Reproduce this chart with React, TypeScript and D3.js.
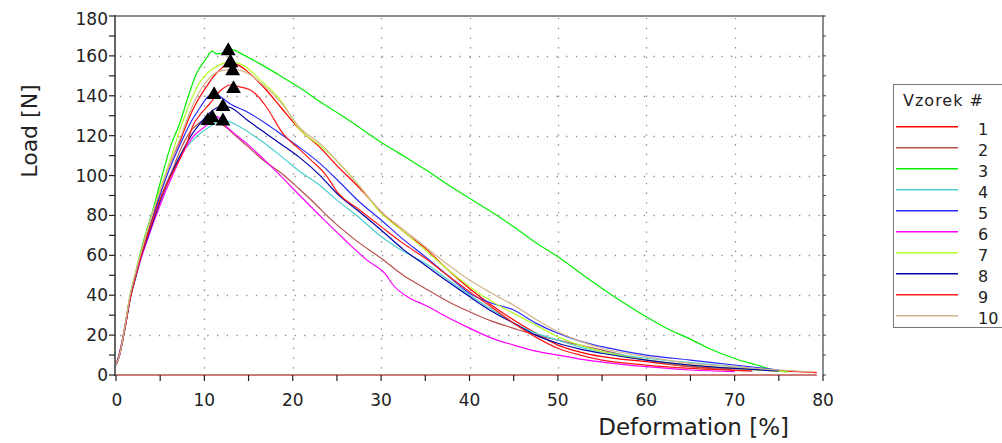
import React, { useEffect, useRef } from "react";
import * as d3 from "d3";

type Pt = [number, number];

const seriesNames = ["1", "2", "3", "4", "5", "6", "7", "8", "9", "10"];
const seriesColors = ["#ff0000", "#b8504c", "#00f000", "#4fd0d0", "#2a2aff", "#ff00ff", "#b4ff2a", "#0000a8", "#ff1a1a", "#d2b48c"];

const s1: Pt[] = [[0,5],[0.4,11],[1,24],[1.6,39],[2.2,50],[2.8,60],[3.5,70],[4.2,80],[4.9,90],[5.6,100],[6.5,110],[7.3,118],[8,126],[8.8,134],[9.5,139.5],[10.3,145],[11,149.5],[12,154],[12.9,156.5],[14,155],[14.8,152.5],[16,147.5],[17,142.9],[18.6,134.5],[20.8,123],[23.1,114],[25,105],[27.5,94],[30,81.9],[32.5,72],[35,63.5],[37.5,53],[40,43.4],[42.5,35],[45,27.6],[47.5,21],[50,15],[52.5,11.5],[55,9.2],[60,6.7],[65,4.2],[70,3.3],[75,2.2],[79.3,1.2]];
const s2: Pt[] = [[0,5],[0.4,10],[1,24],[1.6,39],[2.2,49],[2.8,59],[3.5,69],[4.2,78],[4.9,87],[5.6,95],[6.4,103],[7.2,112],[8.4,122],[9.3,126],[10.4,128],[11.2,127.5],[12.1,125.3],[13.5,120],[14.8,115],[17,106.5],[18.6,101.5],[20.8,93],[22.5,86],[24.2,78.5],[27,68],[30,58.5],[32.5,50],[35,43.4],[37.5,37],[40,31.7],[42.5,27],[45,23.4],[47.5,20],[50,17.5],[52.5,15],[55,12.5],[60,7.5],[65,4.2],[72,2]];
const s3: Pt[] = [[0,5],[0.4,10],[1,24],[1.6,40],[2.2,51],[2.8,62],[3.5,73],[4.2,83],[4.8,93],[5.4,103],[6.2,115],[7.2,126],[8.2,140],[9.1,151],[10.1,158],[10.9,162.4],[11.4,161],[12.1,161.5],[12.7,163],[13.3,163],[14,161.5],[16.3,156],[18.6,150],[20.8,144],[23.1,137],[26.1,128.5],[29.9,117],[32.1,111],[35,103],[38.5,92.7],[40,88.6],[43.8,78],[45,74.3],[47.6,66],[50,59.3],[53.2,49],[55,43.4],[57,37.5],[60,29.2],[62.3,23.4],[65,18],[67,13.5],[70,8.3],[72.5,5],[74,3],[76,1.5]];
const s4: Pt[] = [[0,5],[0.4,10],[1,23],[1.6,38],[2.2,48],[2.8,58],[3.5,68],[4.2,77],[4.9,86],[5.6,94],[6.4,102],[7.2,109.4],[8.7,117.8],[10.3,123.6],[12.1,127.8],[14,124.5],[16.3,117.8],[18.6,110],[20.8,102],[23.1,95],[25,87.7],[27.5,79],[30,69.4],[32.5,62],[35,56],[37.5,48],[40,40.1],[42.5,33],[45,26],[47.5,21],[50,17.5],[52.5,14],[55,11.7],[60,8.4],[65,6.2],[70,4.2],[75,2]];
const s5: Pt[] = [[0,5],[0.4,11],[1,24],[1.6,39],[2.2,49],[2.8,59],[3.5,69],[4.2,79],[4.9,89],[5.6,98],[6.5,108],[7.5,118],[8.5,127],[9.5,134],[10.3,139],[11.1,141],[12,139],[12.9,136],[14.8,132],[17,126],[18.6,121],[20.8,114],[23.1,106],[25,98],[27.5,87],[30,77.7],[32.5,68],[35,59.3],[37.5,50],[40,41],[42.5,36],[45,32.6],[47.5,26],[50,20.9],[52.5,17],[55,14.2],[60,10],[65,7.5],[70,5],[75,2.5]];
const s6: Pt[] = [[0,5],[0.4,10],[1,24],[1.6,39],[2.2,49],[2.8,58],[3.5,67],[4.2,76],[4.9,84],[5.6,92],[6.4,100],[7.2,108],[8.7,119.4],[10.3,125.3],[11.4,129.5],[12.5,124.5],[14.8,116],[17,107],[18.6,100],[20.8,90],[23.5,78],[25.9,67.7],[28.4,57.6],[30.6,50],[31.2,46],[33.3,38.4],[35,35],[37.5,29],[40,23.5],[42.5,18.5],[45,15],[47.5,12],[50,10],[52.5,8],[55,6.5],[60,4.2],[65,2.5],[70,1.7]];
const s7: Pt[] = [[0,5],[0.4,10],[1,24],[1.6,40],[2.2,51],[2.8,61],[3.5,72],[4.2,82],[4.9,92],[5.6,101],[6.3,110],[7,120],[7.8,130],[8.6,139],[9.5,147],[10.5,152],[11.5,155],[13,157],[14.5,155],[16.3,148],[18.6,137.8],[20.8,123],[23.1,115],[25.3,106],[27.5,95],[30,81],[32.5,72],[35,62.7],[37.5,53],[40,44.3],[42.5,37],[45,30.9],[47.5,25],[50,19.2],[52.5,15],[55,11.7],[60,7.5],[65,5],[70,3.3],[76,1.5]];
const s8: Pt[] = [[0,5],[0.4,10],[1,23],[1.6,38],[2.2,49],[2.8,59],[3.5,68],[4.2,77],[4.9,86],[5.6,94],[6.5,103],[7.5,112],[8.5,120],[9.5,126],[10.5,131],[12.1,135],[13,134],[14.8,128],[17,121],[18.6,116],[20.8,109],[23.1,100],[25,91],[27.5,82],[30,72.7],[32.5,63],[35,55],[37.5,47],[40,39.3],[42.5,32],[45,26],[47.5,20],[50,15.9],[52.5,13],[55,10.9],[60,7.5],[65,5],[70,3.3],[75,2]];
const s9: Pt[] = [[0,5],[0.4,10],[1,23],[1.6,38],[2.2,49],[2.8,59],[3.5,69],[4.2,78],[5,88],[5.8,96],[6.6,103],[7.3,109],[8,116],[8.7,125],[9.6,131],[10.6,136],[11.8,142.5],[12.9,145.4],[14,144.5],[15.2,142.9],[16,140],[17,134.5],[18.9,121],[20.8,113],[22,108],[23.8,100],[25,92],[27.5,83],[30,74.4],[32.5,66],[35,58.5],[37.5,50],[40,41.8],[42.5,34],[45,26],[47.5,19],[50,13.4],[52.5,10],[55,7.5],[60,5],[65,3.3],[72,2]];
const s10: Pt[] = [[0,5],[0.4,10],[1,24],[1.6,40],[2.2,51],[2.8,61],[3.5,72],[4.2,82],[4.9,91],[5.6,100],[6.3,108],[7.2,118],[8.2,130],[9.2,140],[10.2,147],[11.3,151.5],[12.5,153],[13.8,153],[15,151],[16.5,146],[18.6,137],[20.8,124],[23.1,116],[25.9,103],[27.5,95],[30,81.9],[32.5,73],[35,64.3],[37.5,55.5],[40,47.6],[42.5,41],[45,35],[47.5,28],[50,21.7],[52.5,17],[55,13.4],[60,9.2],[65,5.8],[70,4.2],[75,2.5],[79,1.5]];
const seriesData: Pt[][] = [s1, s2, s3, s4, s5, s6, s7, s8, s9, s10];

// unloaded return trace lying on the zero line
const zeroTrace: Pt[] = [[0, 0], [79.3, 0]];

const peakX = [12.9, 10.4, 12.7, 12.1, 11.1, 10.9, 13.0, 12.1, 13.3, 13.2];
const peakY = [157, 128, 163, 127.8, 141, 129.5, 157, 135, 144, 153];

const xTicks = [0, 10, 20, 30, 40, 50, 60, 70, 80];
const xMinorTicks = [5, 15, 25, 35, 45, 55, 65, 75];
const yTicks = [0, 20, 40, 60, 80, 100, 120, 140, 160, 180];
const yMinorTicks = [10, 30, 50, 70, 90, 110, 130, 150, 170];

const W = 1002, H = 443;
const FONT = "'DejaVu Sans', Verdana, sans-serif";

export default function App() {
  const ref = useRef<SVGSVGElement>(null);
  useEffect(() => {
    const svg = d3.select(ref.current);
    svg.selectAll("*").remove();
    const x = d3.scaleLinear().domain([0, 80]).range([116, 823]);
    const y = d3.scaleLinear().domain([0, 180]).range([375, 16]);
    const L = x(0), R = x(80), T = y(180), B = y(0);

    svg.append("rect").attr("width", W).attr("height", H).attr("fill", "#fff");

    // grid
    const g = svg.append("g");
    yTicks.filter(t => t > 0 && t < 180).forEach(t => {
      g.append("line").attr("x1", L + 4).attr("x2", R).attr("y1", Math.round(y(t)) + 0.5).attr("y2", Math.round(y(t)) + 0.5)
        .attr("stroke", "#8a8a8a").attr("stroke-width", 1.3).attr("stroke-dasharray", "1.3 8.4");
    });
    xTicks.filter(t => t > 0 && t < 80).forEach(t => {
      g.append("line").attr("x1", Math.round(x(t)) + 0.5).attr("x2", Math.round(x(t)) + 0.5).attr("y1", T + 2).attr("y2", B)
        .attr("stroke", "#8a8a8a").attr("stroke-width", 1.3).attr("stroke-dasharray", "1.3 8.4");
    });

    // curves
    const line = d3.line<Pt>().x(d => x(d[0])).y(d => y(d[1])).curve(d3.curveMonotoneX);
    seriesData.forEach((data, i) => {
      svg.append("path").attr("d", line(data) as string).attr("fill", "none")
        .attr("stroke", seriesColors[i]).attr("stroke-width", 1.2).attr("stroke-linejoin", "round");
    });
    svg.append("path").attr("d", line(zeroTrace) as string).attr("fill", "none")
      .attr("stroke", seriesColors[1]).attr("stroke-width", 1.5);

    // peak markers
    const tri = d3.symbol().type(d3.symbolTriangle).size(95);
    peakX.forEach((px, i) => {
      svg.append("path").attr("d", tri() as string)
        .attr("transform", `translate(${x(px)},${y(peakY[i]) + 1})`).attr("fill", "#000");
    });

    // frame
    svg.append("line").attr("x1", L).attr("x2", R + 1).attr("y1", T).attr("y2", T).attr("stroke", "#666").attr("stroke-width", 1.5);
    svg.append("line").attr("x1", R).attr("x2", R).attr("y1", T).attr("y2", B).attr("stroke", "#666").attr("stroke-width", 1.5);
    svg.append("line").attr("x1", L - 1).attr("x2", L - 1).attr("y1", T - 1).attr("y2", B + 1).attr("stroke", "#666").attr("stroke-width", 2);

    // ticks and labels
    const ax = svg.append("g").attr("font-family", FONT).attr("fill", "#222");
    [...yTicks, ...yMinorTicks].forEach(t => {
      ax.append("line").attr("x1", L - 7).attr("x2", L - 1).attr("y1", y(t)).attr("y2", y(t)).attr("stroke", "#222").attr("stroke-width", 1.2);
      ax.append("line").attr("x1", R).attr("x2", R + 3).attr("y1", y(t)).attr("y2", y(t)).attr("stroke", "#444").attr("stroke-width", 1);
    });
    yTicks.forEach(t => {
      ax.append("text").attr("x", 108).attr("y", y(t) + (t === 180 ? 9 : 6)).attr("text-anchor", "end")
        .attr("font-size", 17).text(String(t));
    });
    [...xTicks, ...xMinorTicks].forEach(t => {
      ax.append("line").attr("x1", x(t)).attr("x2", x(t)).attr("y1", B).attr("y2", B + 6).attr("stroke", "#222").attr("stroke-width", 1.2);
    });
    xTicks.forEach(t => {
      ax.append("text").attr("x", x(t) + (t === 0 ? 1 : 0)).attr("y", 406).attr("text-anchor", "middle")
        .attr("font-size", 17).text(String(t));
    });

    // axis titles
    ax.append("text").attr("x", 789).attr("y", 435).attr("text-anchor", "end").attr("font-size", 23).text("Deformation [%]");
    ax.append("text").attr("transform", "translate(37,131) rotate(-90)").attr("text-anchor", "middle")
      .attr("font-size", 22).text("Load [N]");

    // legend
    const lg = svg.append("g").attr("font-family", FONT).attr("fill", "#222");
    lg.append("rect").attr("x", 893.5).attr("y", 84.5).attr("width", 120).attr("height", 243)
      .attr("fill", "#fff").attr("stroke", "#777").attr("stroke-width", 1);
    lg.append("text").attr("x", 903).attr("y", 106).attr("font-size", 16).attr("letter-spacing", 1).text("Vzorek #");
    seriesNames.forEach((n, i) => {
      const ly = 126.7 + i * 21;
      lg.append("line").attr("x1", 896).attr("x2", 958).attr("y1", ly).attr("y2", ly)
        .attr("stroke", seriesColors[i]).attr("stroke-width", 1.5);
      lg.append("text").attr("x", 978).attr("y", ly + 8.3).attr("font-size", 16).text(n);
    });
  }, []);
  return (
    <svg ref={ref} width={W} height={H} style={{ position: "absolute", left: 0, top: 0 }} />
  );
}
